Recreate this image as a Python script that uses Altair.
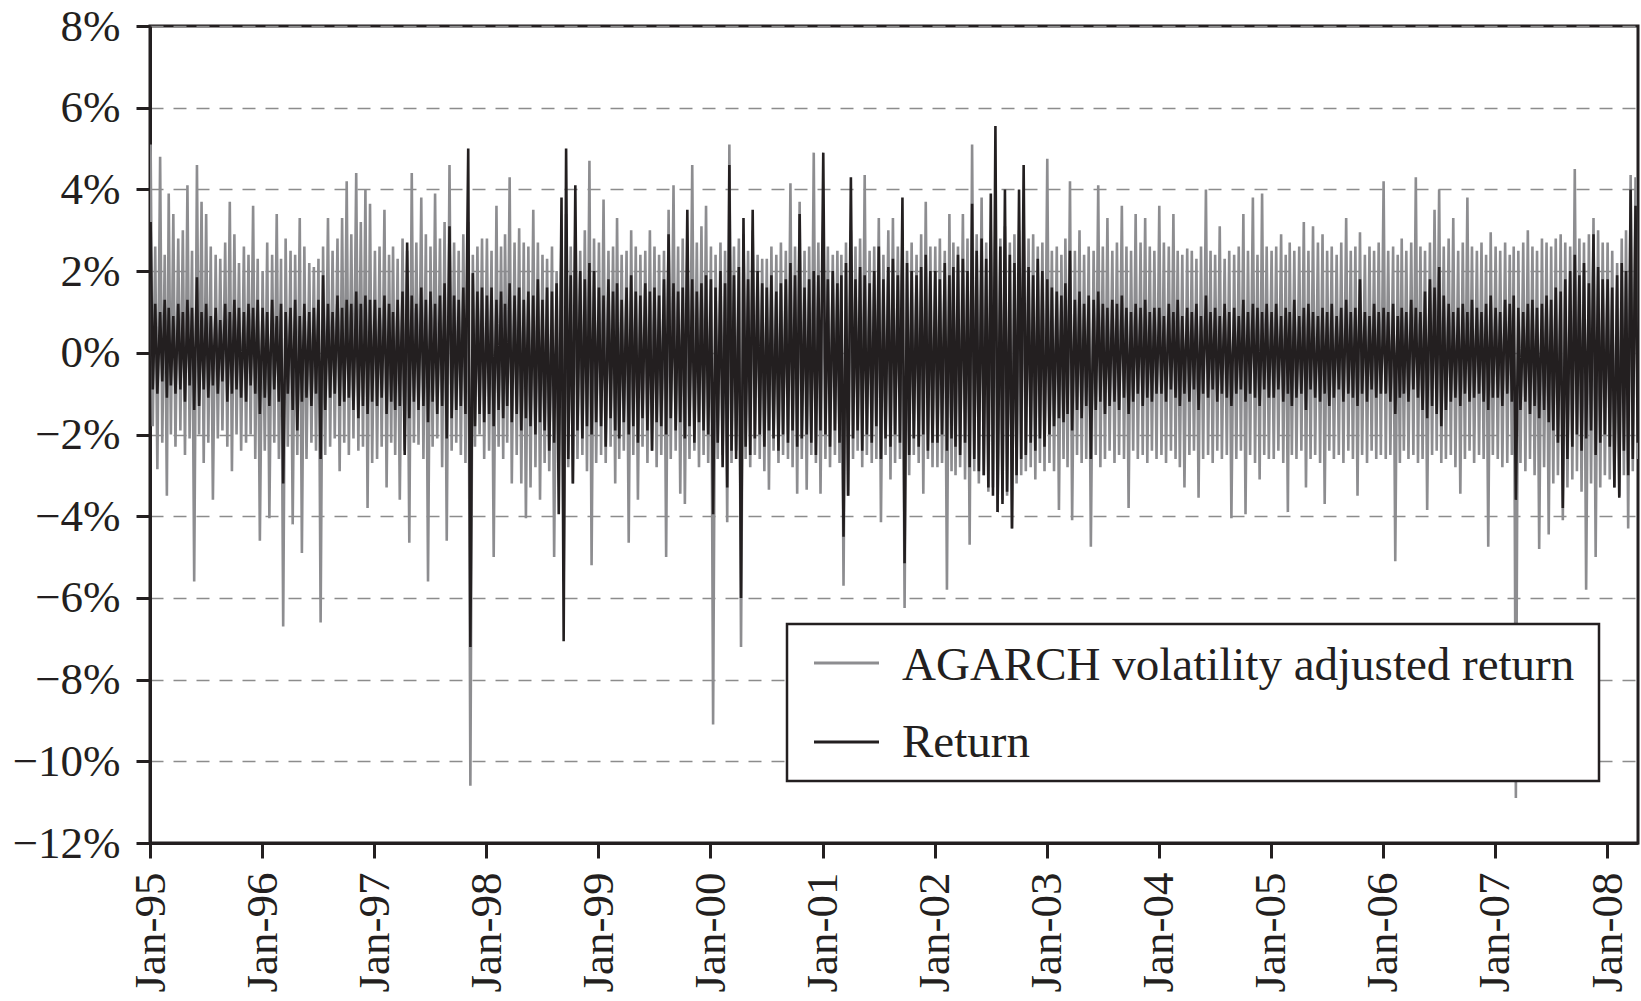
import altair as alt
import pandas as pd

SER_G = "AGARCH volatility adjusted return"
SER_R = "Return"
GRAY = "#8d8d90"
BLACK = "#231f20"

# Half-month buckets from Jan-1995: high and low reading of each series (in %)
gray_hi = [
    5.1, 2.6, 4.8, 2.4, 3.9, 3.4, 2.8, 3.0, 4.1, 2.5, 4.6, 3.7,
    3.4, 2.6, 2.4, 2.3, 2.7, 3.7, 2.9, 2.2, 2.6, 2.4, 3.6, 2.3,
    2.0, 2.7, 2.4, 3.4, 2.3, 2.8, 2.5, 2.4, 3.3, 2.6, 2.2, 2.1,
    2.3, 2.6, 3.3, 2.5, 2.8, 3.3, 4.2, 2.9, 4.4, 3.2, 4.0, 3.65,
    2.5, 2.6, 3.5, 2.4, 2.6, 2.3, 2.8, 2.5, 4.4, 2.7, 3.8, 2.9,
    2.6, 3.9, 2.8, 3.2, 4.6, 2.7, 2.5, 2.9, 3.2, 2.4, 2.6, 2.8,
    2.8, 2.5, 3.6, 2.6, 2.9, 4.3, 2.7, 3.05, 2.7, 2.6, 3.5, 2.7,
    2.4, 2.3, 2.6, 2.0, 3.0, 3.4, 2.6, 3.0, 2.5, 3.0, 4.7, 2.8,
    2.7, 3.75, 2.5, 2.6, 3.3, 2.4, 2.5, 3.0, 2.6, 2.4, 2.5, 3.0,
    2.6, 2.4, 2.5, 3.5, 4.1, 2.6, 2.8, 2.5, 4.6, 2.7, 3.1, 3.6,
    2.6, 2.4, 2.7, 2.5, 5.1, 2.6, 2.8, 2.9, 2.5, 3.0, 2.4, 2.3,
    2.3, 2.6, 2.4, 2.7, 2.5, 4.15, 2.6, 3.7, 2.5, 2.6, 4.9, 2.7,
    3.2, 2.6, 2.4, 2.5, 2.4, 2.7, 3.0, 2.6, 2.8, 4.35, 2.5, 2.6,
    3.3, 2.4, 3.0, 3.3, 2.6, 3.0, 2.5, 2.7, 2.4, 2.9, 3.7, 2.6,
    2.6, 2.8, 2.5, 3.4, 2.7, 2.6, 3.4, 2.8, 5.1, 2.9, 3.8, 2.7,
    3.0, 3.2, 2.8, 3.1, 2.7, 2.9, 3.0, 3.3, 2.8, 2.9, 2.6, 2.7,
    4.75, 2.5, 2.6, 2.4, 2.8, 4.2, 2.5, 3.0, 2.4, 2.6, 2.5, 4.1,
    2.6, 3.3, 2.5, 2.7, 3.6, 2.6, 2.5, 3.4, 2.7, 3.3, 2.6, 2.5,
    3.6, 2.7, 2.6, 3.4, 2.5, 2.4, 2.55, 2.5, 2.3, 2.6, 4.0, 2.5,
    2.4, 3.1, 2.3, 2.5, 2.4, 2.6, 3.4, 2.5, 3.8, 2.4, 3.9, 2.6,
    2.5, 2.6, 2.9, 2.4, 2.7, 2.5, 2.6, 3.2, 2.5, 3.1, 2.7, 2.9,
    2.5, 2.6, 2.4, 2.7, 3.3, 2.5, 2.6, 2.95, 2.4, 2.6, 2.5, 2.7,
    4.2, 2.5, 2.6, 2.4, 2.8, 2.5, 2.7, 4.3, 2.6, 2.5, 2.7, 3.5,
    4.0, 2.6, 2.8, 3.3, 2.5, 2.7, 3.8, 2.6, 2.5, 2.7, 2.4, 2.95,
    2.6, 2.5, 2.7, 2.4, 2.6, 2.5, 2.7, 3.0, 2.6, 2.5, 2.8, 2.7,
    2.6, 2.8, 2.9, 2.7, 2.6, 4.5, 2.8, 2.7, 2.9, 3.3, 3.0, 2.7,
    2.7, 2.5, 2.2, 2.8, 3.0, 4.35, 4.3,
]
gray_lo = [
    -1.8, -2.85, -2.2, -3.5, -2.0, -2.3, -1.9, -2.5, -2.1, -5.6, -2.0, -2.7,
    -2.2, -3.6, -2.1, -1.9, -2.3, -2.9, -2.0, -2.4, -2.2, -2.0, -2.6, -4.6,
    -2.4, -4.05, -2.2, -2.6, -6.7, -2.3, -4.2, -2.5, -4.9, -2.6, -2.2, -2.4,
    -6.6, -2.5, -2.3, -2.1, -2.9, -2.2, -2.5, -2.1, -2.4, -2.3, -3.8, -2.7,
    -2.6, -2.3, -3.3, -2.2, -2.5, -3.6, -2.4, -4.65, -2.2, -2.25, -2.6, -5.6,
    -2.3, -2.1, -2.8, -4.6, -2.4, -2.2, -2.5, -2.7, -10.6, -2.3, -2.0, -2.6,
    -2.4, -5.0, -2.3, -2.6, -2.2, -3.2, -2.5, -3.2, -4.05, -3.3, -2.8, -3.6,
    -2.7, -2.9, -5.0, -2.6, -5.6, -2.8, -3.2, -2.6, -2.5, -2.9, -5.2, -2.7,
    -2.5, -2.7, -2.3, -3.2, -2.6, -2.4, -4.65, -2.5, -3.6, -2.3, -2.7, -2.4,
    -2.8, -2.5, -5.0, -2.6, -2.4, -3.45, -3.7, -2.6, -2.4, -2.8, -2.5, -2.7,
    -9.1, -2.6, -2.5, -4.15, -2.7, -2.4, -7.2, -2.6, -2.8, -2.5, -2.6, -2.9,
    -3.35, -2.4, -2.7, -2.5, -2.6, -2.8, -3.45, -2.6, -3.35, -2.5, -2.7, -3.45,
    -2.6, -2.8, -2.5, -2.7, -5.7, -3.5, -2.6, -2.4, -2.8, -2.5, -2.7, -2.6,
    -4.15, -2.5, -3.1, -2.7, -2.6, -6.25, -3.0, -2.5, -2.7, -3.45, -2.6, -2.8,
    -2.8, -2.7, -5.8, -2.9, -3.0, -2.8, -3.1, -4.7, -2.9, -3.2, -3.0, -3.4,
    -3.3, -3.9, -3.6, -3.5, -4.3, -3.2, -3.0, -2.9, -2.8, -3.1, -2.7, -2.9,
    -2.7, -2.9, -3.85, -2.6, -2.8, -4.1, -2.5, -2.7, -2.6, -4.75, -2.5, -2.8,
    -2.6, -2.4, -2.7, -2.5, -2.6, -3.8, -2.4, -2.6, -2.5, -2.7, -2.4, -2.6,
    -2.5, -2.7, -2.4, -2.6, -2.8, -3.3, -2.5, -2.4, -3.55, -2.6, -2.5, -2.7,
    -2.4, -2.6, -2.5, -4.05, -2.6, -2.4, -3.95, -2.5, -2.7, -3.1, -2.5, -2.6,
    -2.6, -2.4, -2.7, -3.9, -2.5, -2.6, -2.4, -3.3, -2.6, -2.5, -2.7, -3.7,
    -2.4, -2.6, -2.5, -2.7, -2.4, -2.6, -3.5, -2.5, -2.7, -2.4, -2.6, -2.5,
    -2.6, -2.5, -5.1, -2.7, -2.4, -2.6, -2.5, -2.7, -2.6, -3.85, -2.5, -2.4,
    -2.7, -2.6, -2.5, -2.8, -3.45, -2.6, -2.4, -2.7, -2.5, -2.6, -4.75, -2.5,
    -2.6, -2.8, -2.7, -2.5, -10.9, -2.7, -2.9, -2.6, -3.0, -4.8, -2.8, -4.45,
    -3.2, -3.0, -4.1, -3.3, -3.1, -2.9, -3.4, -5.8, -3.2, -5.0, -3.3, -3.0,
    -3.1, -3.3, -3.5, -3.0, -4.3, -2.9, -2.6,
]
ret_hi = [
    3.2, 1.2, 1.0, 1.3, 1.1, 0.9, 1.2, 1.0, 1.3, 1.1, 1.85, 1.0,
    1.2, 0.9, 1.1, 0.8, 1.2, 1.0, 1.3, 1.1, 1.0, 1.2, 1.1, 1.3,
    1.1, 1.0, 1.3, 0.9, 1.2, 1.0, 1.1, 1.3, 0.9, 1.2, 1.0, 1.1,
    1.3, 1.9, 1.2, 1.0, 1.4, 1.1, 1.3, 1.2, 1.5, 1.2, 1.4, 1.3,
    1.3, 1.1, 1.4, 1.2, 1.0, 1.3, 1.5, 2.7, 1.4, 1.2, 1.6, 1.3,
    1.5, 1.2, 1.4, 1.7, 3.1, 1.4, 1.3, 1.6, 5.0, 1.95, 1.5, 1.6,
    1.4, 1.6, 1.3, 1.5, 1.2, 1.7, 1.4, 1.6, 1.3, 1.5, 1.4, 1.8,
    1.3, 1.6, 1.5, 1.7, 3.8, 5.0, 1.9, 4.1, 2.0, 1.8, 2.2, 2.0,
    1.6, 1.4, 1.8, 1.5, 1.7, 1.3, 1.6, 1.9, 1.5, 1.4, 1.7, 1.5,
    1.6, 1.4, 1.8, 2.9, 1.7, 1.5, 1.6, 3.5, 1.8, 1.5, 1.7, 1.9,
    1.8, 1.6, 2.0, 1.7, 4.6, 1.9, 2.1, 3.3, 1.8, 3.5, 2.0, 1.7,
    1.6, 1.9, 1.5, 1.7, 1.8, 2.2, 1.9, 3.4, 1.6, 1.8, 2.0, 1.9,
    4.9, 1.8, 2.0, 1.7, 1.9, 2.2, 4.3, 1.8, 2.1, 1.9, 1.7, 2.0,
    2.6, 1.8, 2.1, 2.3, 1.9, 3.8, 2.2, 2.0, 1.9, 2.1, 2.4, 2.0,
    2.0, 1.8, 2.2, 1.9, 2.1, 2.4, 2.3, 2.0, 3.65, 2.5, 2.8, 2.3,
    3.9, 5.55, 2.6, 4.0, 2.4, 2.2, 4.0, 4.6, 2.1, 1.9, 2.3, 2.0,
    1.8, 1.6, 1.5, 1.4, 1.7, 2.5, 1.3, 1.5, 1.2, 1.4, 1.3, 1.5,
    1.2, 1.1, 1.3, 1.2, 1.4, 1.1, 1.0, 1.2, 1.1, 1.3, 1.0, 1.1,
    1.1, 0.9, 1.2, 1.0, 1.3, 0.9, 1.1, 1.0, 1.2, 0.9, 1.4, 1.0,
    1.1, 0.9, 1.2, 1.0, 1.1, 0.9, 1.3, 1.0, 1.2, 1.1, 1.0, 1.2,
    1.0, 1.2, 0.9, 1.1, 1.0, 1.3, 0.9, 1.1, 1.2, 1.0, 0.9, 1.1,
    1.0, 1.2, 0.9, 1.1, 1.3, 1.0, 1.1, 1.8, 1.0, 0.9, 1.2, 1.0,
    1.1, 1.0, 1.2, 0.9, 1.1, 1.0, 1.3, 1.1, 1.0, 1.5, 1.8, 1.6,
    2.1, 1.4, 1.2, 1.0, 1.1, 1.2, 1.0, 1.3, 1.1, 1.0, 1.2, 1.4,
    1.1, 1.0, 1.3, 1.2, 1.4, 1.1, 1.0, 1.2, 1.3, 1.1, 1.2, 1.4,
    1.3, 1.6, 1.5, 1.8, 2.0, 2.4, 1.9, 2.2, 1.7, 2.9, 2.1, 1.8,
    1.8, 1.6, 1.9, 2.2, 2.0, 4.0, 3.6,
]
ret_lo = [
    -0.9, -1.0, -0.7, -1.1, -0.8, -1.0, -0.9, -1.2, -0.8, -1.4, -1.3, -0.9,
    -1.1, -0.8, -1.0, -0.7, -1.2, -1.0, -0.9, -1.1, -1.2, -0.8, -1.0, -1.5,
    -1.1, -1.3, -0.9, -1.2, -3.2, -1.0, -1.4, -1.9, -1.2, -1.1, -1.3, -1.0,
    -2.6, -1.4, -1.1, -1.0, -1.3, -1.2, -1.1, -1.4, -1.6, -1.3, -1.5, -1.2,
    -1.3, -1.1, -1.5, -1.2, -1.4, -1.3, -2.5, -1.6, -1.2, -1.4, -1.3, -1.7,
    -1.2, -1.5, -1.3, -2.1, -1.6, -1.4, -1.3, -1.5, -7.2, -1.8, -1.5, -1.7,
    -1.5, -1.8, -1.4, -1.6, -1.3, -1.7, -1.5, -1.9, -1.6, -1.8, -2.0, -1.7,
    -1.9, -2.4, -2.2, -3.95, -7.06, -2.6, -3.2, -1.9, -2.1, -1.8, -2.0, -1.7,
    -1.8, -2.3, -1.6, -1.9, -2.1, -1.7, -2.0, -1.8, -2.2, -1.6, -1.9, -2.4,
    -1.7, -1.8, -2.0, -1.6, -1.9, -1.7, -2.1, -1.8, -2.2, -1.7, -1.9, -2.0,
    -3.95, -2.2, -2.8, -3.3, -2.4, -2.6, -6.0, -2.3, -2.5, -2.1, -2.0, -2.3,
    -1.9, -2.1, -2.4, -2.0, -2.2, -1.9, -2.3, -2.1, -2.0, -2.2, -2.5, -1.9,
    -2.0, -2.3, -1.9, -2.2, -4.5, -3.5, -2.1, -1.9, -2.4, -2.0, -2.2, -1.8,
    -2.6, -2.1, -2.3, -2.0, -2.2, -5.15, -2.5, -2.1, -2.3, -2.0, -2.4, -2.2,
    -2.2, -2.0, -2.4, -2.1, -2.3, -2.5, -2.2, -2.8, -2.6, -2.9, -3.0, -3.3,
    -3.5, -3.9, -3.7, -3.4, -4.3, -3.0, -2.6, -2.5, -2.2, -2.4, -2.1, -2.3,
    -2.0, -1.8, -1.6, -1.7, -1.5, -1.9, -1.4, -1.6, -1.3, -2.6, -1.4, -1.2,
    -1.5, -1.3, -1.2, -1.4, -1.1, -1.5, -1.2, -1.0, -1.3, -1.1, -1.2, -1.0,
    -1.0, -1.2, -0.9, -1.1, -1.3, -1.0, -1.2, -0.9, -1.4, -1.0, -1.1, -0.9,
    -1.2, -1.0, -1.1, -1.3, -1.0, -0.9, -1.2, -1.0, -1.1, -1.3, -0.9, -1.1,
    -1.1, -0.9, -1.2, -1.0, -1.3, -1.1, -1.0, -1.4, -0.9, -1.1, -1.2, -1.0,
    -1.3, -1.1, -0.9, -1.2, -1.0, -1.1, -1.3, -1.0, -1.2, -0.9, -1.1, -1.0,
    -1.0, -1.2, -1.5, -1.1, -1.0, -1.2, -0.9, -1.1, -1.4, -1.6, -1.3, -1.5,
    -1.8, -1.4, -1.2, -1.1, -1.3, -1.0, -1.2, -1.1, -1.0, -1.2, -1.4, -1.1,
    -1.1, -1.3, -1.0, -1.2, -3.6, -1.4, -1.2, -1.5, -1.3, -1.6, -1.4, -1.7,
    -1.9, -2.2, -3.8, -2.6, -2.3, -2.0, -2.4, -2.1, -1.9, -2.5, -2.2, -2.0,
    -2.3, -3.3, -3.55, -2.4, -3.0, -2.6, -2.2,
]

tick_years = list(range(1995, 2009))
pct_ticks = [-0.12, -0.10, -0.08, -0.06, -0.04, -0.02, 0.0, 0.02, 0.04, 0.06, 0.08]

rows = []
n = min(len(gray_hi), len(gray_lo), len(ret_hi), len(ret_lo))
for i in range(n):
    yr = 1995 + i // 24
    mo = (i % 24) // 2 + 1
    d0 = 1 if i % 2 == 0 else 16
    t1 = pd.Timestamp(yr, mo, d0 + 2).strftime("%Y-%m-%dT00:00:00")
    t2 = pd.Timestamp(yr, mo, d0 + 9).strftime("%Y-%m-%dT00:00:00")
    rows.append({"date": t1, "value": gray_hi[i], "series": SER_G})
    rows.append({"date": t2, "value": gray_lo[i], "series": SER_G})
    rows.append({"date": t1, "value": ret_hi[i], "series": SER_R})
    rows.append({"date": t2, "value": ret_lo[i], "series": SER_R})
df = pd.DataFrame(rows)

x_enc = alt.X(
    "date:T",
    scale=alt.Scale(domain=[alt.DateTime(year=1995, month=1, date=1),
                            alt.DateTime(year=2008, month=4, date=11)]),
    axis=alt.Axis(values=[alt.DateTime(year=y, month=1, date=1) for y in tick_years],
                  format="%b-%y", labelAngle=-90, title=None, grid=False,
                  tickSize=15, labelPadding=14),
)
y_enc = alt.Y(
    "pct:Q",
    scale=alt.Scale(domain=[-0.12, 0.08], nice=False, zero=False),
    axis=alt.Axis(values=pct_ticks, format=".0%", title=None, grid=True,
                  gridDash=[13, 10], tickSize=14, labelPadding=16),
)
color_enc = alt.Color("series:N",
                      scale=alt.Scale(domain=[SER_G, SER_R], range=[GRAY, BLACK]),
                      legend=None)

base = alt.Chart(df).transform_calculate(pct="datum.value / 100")
gray_line = base.transform_filter(alt.datum.series == SER_G).mark_line(
    strokeWidth=2.6, clip=True).encode(x=x_enc, y=y_enc, color=color_enc)
ret_line = base.transform_filter(alt.datum.series == SER_R).mark_line(
    strokeWidth=2.6, clip=True).encode(x=x_enc, y=y_enc, color=color_enc)

# Legend (drawn manually as a framed box)
leg_box_df = pd.DataFrame({"k": [0]})
leg_box = alt.Chart(leg_box_df).mark_rect(fill="white", stroke=BLACK, strokeWidth=2.5).encode(
    x=alt.value(637), x2=alt.value(1449), y=alt.value(598), y2=alt.value(755))
leg_g_df = pd.DataFrame({"series": [SER_G]})
leg_r_df = pd.DataFrame({"series": [SER_R]})
leg_g_sym = alt.Chart(leg_g_df).mark_rule(color=GRAY, strokeWidth=3).encode(
    x=alt.value(664), x2=alt.value(729), y=alt.value(637))
leg_r_sym = alt.Chart(leg_r_df).mark_rule(color=BLACK, strokeWidth=3).encode(
    x=alt.value(664), x2=alt.value(729), y=alt.value(716))
leg_g_txt = alt.Chart(leg_g_df).mark_text(
    font="Liberation Serif", fontSize=47, color=BLACK, align="left", baseline="alphabetic").encode(
    text="series:N", x=alt.value(752), y=alt.value(654))
leg_r_txt = alt.Chart(leg_r_df).mark_text(
    font="Liberation Serif", fontSize=47, color=BLACK, align="left", baseline="alphabetic").encode(
    text="series:N", x=alt.value(752), y=alt.value(731))

chart = alt.layer(
    gray_line, ret_line, leg_box, leg_g_sym, leg_r_sym, leg_g_txt, leg_r_txt
).properties(
    width=1488, height=817,
    autosize=alt.AutoSizeParams(type="none"),
    padding={"left": 150, "top": 26, "right": 3, "bottom": 158},
    background="white",
).configure_view(
    stroke=BLACK, strokeWidth=3
).configure_axis(
    domainColor=BLACK, domainWidth=3, tickColor=BLACK, tickWidth=3,
    labelFont="Liberation Serif", labelFontSize=45, labelColor=BLACK,
    gridColor="#8c8c8c", gridWidth=1.6,
)

chart.save("out.html", embed_options={"renderer": "svg", "actions": False})
